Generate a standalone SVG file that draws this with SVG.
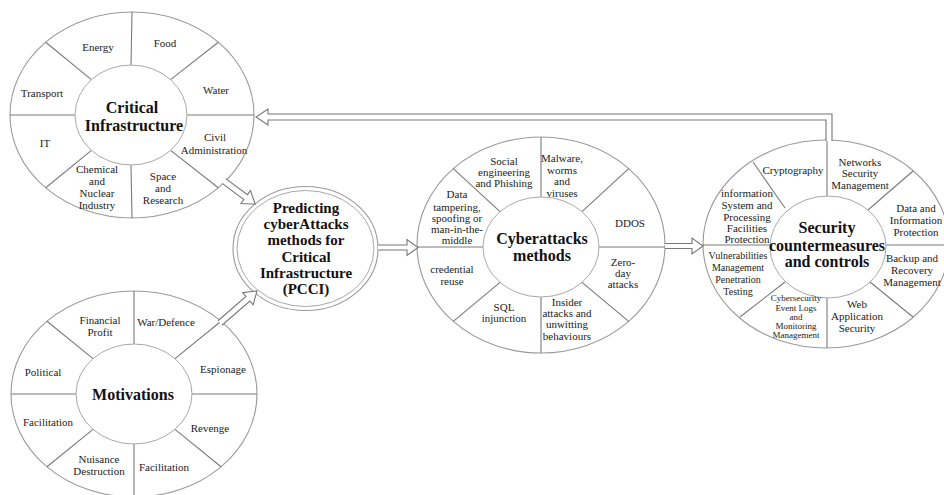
<svg xmlns="http://www.w3.org/2000/svg" width="944" height="495" viewBox="0 0 944 495">
<style>
.o{fill:#fff;stroke:#9a9a9a;stroke-width:1.1}
.i{fill:#fff;stroke:#a8a8a8;stroke-width:1}
.sp{stroke:#7a7a7a;stroke-width:1.1;fill:none}
.t{font-family:"Liberation Serif","Times New Roman",serif;font-size:11px;fill:#222;text-anchor:middle}
.s10{font-size:10px}
.s9{font-size:9px}
.b{font-family:"Liberation Serif","Times New Roman",serif;font-size:16px;font-weight:bold;fill:#111;text-anchor:middle}
.bp{font-size:15px}
.ar{fill:#fff;stroke:#777;stroke-width:1.1;stroke-linejoin:miter}
</style>
<rect width="944" height="495" fill="#fff"/>

<g id="critical-infrastructure">
<ellipse class="o" cx="132" cy="115" rx="122" ry="103"/>
<g class="sp">
<line x1="132" y1="12" x2="131" y2="65"/>
<line x1="132" y1="218" x2="131" y2="165"/>
<line x1="10" y1="115" x2="75" y2="115"/>
<line x1="254" y1="115" x2="187" y2="115"/>
<line x1="45.7" y1="42.2" x2="91.4" y2="79.6"/>
<line x1="218.3" y1="42.2" x2="170.6" y2="79.6"/>
<line x1="45.7" y1="187.8" x2="91.4" y2="150.4"/>
<line x1="218.3" y1="187.8" x2="170.6" y2="150.4"/>
</g>
<ellipse class="i" cx="131" cy="115" rx="56" ry="50"/>
<text class="t" x="98" y="51">Energy</text>
<text class="t" x="165" y="47">Food</text>
<text class="t" x="216" y="94">Water</text>
<text class="t" x="42" y="97">Transport</text>
<text class="t" x="45" y="147">IT</text>
<text class="t" x="215" y="141">Civil</text>
<text class="t" x="214" y="154">Administration</text>
<text class="t" x="97" y="173">Chemical</text>
<text class="t" x="97" y="185">and</text>
<text class="t" x="97" y="197">Nuclear</text>
<text class="t" x="97" y="209">Industry</text>
<text class="t" x="163" y="180">Space</text>
<text class="t" x="163" y="192">and</text>
<text class="t" x="163" y="204">Research</text>
<text class="b" x="132" y="113">Critical</text>
<text class="b" x="134" y="131">Infrastructure</text>
</g>

<g id="motivations">
<ellipse class="o" cx="134" cy="394" rx="123" ry="103"/>
<g class="sp">
<line x1="134" y1="291" x2="134" y2="344"/>
<line x1="134" y1="497" x2="134" y2="444"/>
<line x1="11" y1="394" x2="76" y2="394"/>
<line x1="257" y1="394" x2="192" y2="394"/>
<line x1="47" y1="321.2" x2="93" y2="358.6"/>
<line x1="221" y1="321.2" x2="175" y2="358.6"/>
<line x1="47" y1="466.8" x2="93" y2="429.4"/>
<line x1="221" y1="466.8" x2="175" y2="429.4"/>
</g>
<ellipse class="i" cx="134" cy="394" rx="58" ry="50"/>
<text class="t" x="100" y="324">Financial</text>
<text class="t" x="100" y="336">Profit</text>
<text class="t" x="166" y="326">War/Defence</text>
<text class="t" x="43" y="376">Political</text>
<text class="t" x="223" y="373">Espionage</text>
<text class="b" x="133" y="400">Motivations</text>
<text class="t" x="48" y="426">Facilitation</text>
<text class="t" x="210" y="432">Revenge</text>
<text class="t" x="99" y="463">Nuisance</text>
<text class="t" x="99" y="475">Destruction</text>
<text class="t" x="164" y="471">Facilitation</text>
</g>

<g id="pcci">
<ellipse class="o" cx="305.5" cy="248.5" rx="72.5" ry="62"/>
<ellipse class="i" cx="305.5" cy="248.5" rx="68.5" ry="58"/>
<text class="b bp" x="306" y="213">Predicting</text>
<text class="b bp" x="306" y="229">cyberAttacks</text>
<text class="b bp" x="306" y="245">methods for</text>
<text class="b bp" x="306" y="262">Critical</text>
<text class="b bp" x="306" y="278">Infrastructure</text>
<text class="b bp" x="306" y="294">(PCCI)</text>
</g>

<g id="cyberattacks-methods">
<ellipse class="o" cx="541" cy="245" rx="124" ry="108"/>
<g class="sp">
<line x1="541" y1="137" x2="541" y2="197"/>
<line x1="541" y1="353" x2="541" y2="297"/>
<line x1="417" y1="247" x2="483" y2="247"/>
<line x1="665" y1="247" x2="599" y2="247"/>
<line x1="453.3" y1="168.6" x2="500" y2="211.6"/>
<line x1="628.7" y1="168.6" x2="582" y2="211.6"/>
<line x1="453.3" y1="321.4" x2="500" y2="282.4"/>
<line x1="628.7" y1="321.4" x2="582" y2="282.4"/>
</g>
<ellipse class="i" cx="541" cy="247" rx="58" ry="50"/>
<text class="t" x="504" y="165">Social</text>
<text class="t" x="504" y="176">engineering</text>
<text class="t" x="504" y="187">and Phishing</text>
<text class="t" x="562" y="162">Malware,</text>
<text class="t" x="562" y="174">worms</text>
<text class="t" x="562" y="185">and</text>
<text class="t" x="562" y="197">viruses</text>
<text class="t" x="457" y="198">Data</text>
<text class="t" x="457" y="211">tampering,</text>
<text class="t" x="457" y="222">spoofing or</text>
<text class="t" x="457" y="233">man-in-the-</text>
<text class="t" x="457" y="244">middle</text>
<text class="t" x="630" y="227">DDOS</text>
<text class="b" x="542" y="244">Cyberattacks</text>
<text class="b" x="542" y="261">methods</text>
<text class="t" x="452" y="273">credential</text>
<text class="t" x="452" y="285">reuse</text>
<text class="t" x="623" y="266">Zero-</text>
<text class="t" x="623" y="277">day</text>
<text class="t" x="623" y="288">attacks</text>
<text class="t" x="504" y="311">SQL</text>
<text class="t" x="504" y="322">injunction</text>
<text class="t" x="567" y="306">Insider</text>
<text class="t" x="567" y="317">attacks and</text>
<text class="t" x="567" y="328">unwitting</text>
<text class="t" x="567" y="340">behaviours</text>
</g>

<g id="security-countermeasures">
<ellipse class="o" cx="826" cy="244" rx="123" ry="104"/>
<g class="sp">
<line x1="827" y1="140" x2="827" y2="196"/>
<line x1="827" y1="348" x2="827" y2="298"/>
<line x1="703" y1="245" x2="770" y2="245"/>
<line x1="886" y1="245" x2="944" y2="245"/>
<line x1="753" y1="162" x2="785" y2="208"/>
<line x1="913" y1="171" x2="868" y2="210"/>
<line x1="740" y1="317" x2="785" y2="282"/>
<line x1="913" y1="317" x2="870" y2="282"/>
</g>
<ellipse class="i" cx="828" cy="247" rx="58" ry="51"/>
<text class="t" x="793" y="174">Cryptography</text>
<text class="t" x="860" y="166">Networks</text>
<text class="t" x="860" y="177">Security</text>
<text class="t" x="860" y="189">Management</text>
<text class="t" x="747" y="197">information</text>
<text class="t" x="747" y="209">System and</text>
<text class="t" x="747" y="221">Processing</text>
<text class="t" x="747" y="232">Facilities</text>
<text class="t" x="747" y="243">Protection</text>
<text class="t" x="916" y="212">Data and</text>
<text class="t" x="916" y="224">Information</text>
<text class="t" x="916" y="236">Protection</text>
<text class="b" x="827" y="233">Security</text>
<text class="b" x="827" y="251">countermeasures</text>
<text class="b" x="827" y="267">and controls</text>
<text class="t s10" x="738" y="259">Vulnerabilities</text>
<text class="t s10" x="738" y="271">Management</text>
<text class="t s10" x="738" y="283">Penetration</text>
<text class="t s10" x="738" y="295">Testing</text>
<text class="t" x="912" y="262">Backup and</text>
<text class="t" x="912" y="274">Recovery</text>
<text class="t" x="912" y="286">Management</text>
<text class="t s9" x="796" y="301">Cybersecurity</text>
<text class="t s9" x="796" y="311">Event Logs</text>
<text class="t s9" x="796" y="320">and</text>
<text class="t s9" x="796" y="329">Monitoring</text>
<text class="t s9" x="796" y="338">Management</text>
<text class="t" x="857" y="308">Web</text>
<text class="t" x="857" y="320">Application</text>
<text class="t" x="857" y="332">Security</text>
</g>

<g id="connectors">
<path class="ar" transform="translate(224,181) rotate(36.6)" d="M0,-3 H27 V-8 L39,0 L27,8 V3 H0"/>
<path class="ar" transform="translate(220,323) rotate(-41)" d="M0,-3 H37 V-8 L49,0 L37,8 V3 H0"/>
<path class="ar" transform="translate(378,247.5)" d="M0,-2.5 H29 V-8 L40,0 L29,8 V2.5 H0"/>
<path class="ar" transform="translate(665,246)" d="M0,-2.5 H27 V-8 L38,0 L27,8 V2.5 H0"/>
<path class="ar" d="M826,141 V120 H268 V125 L256,117 L268,109 V114 H832 V141"/>
</g>
</svg>
